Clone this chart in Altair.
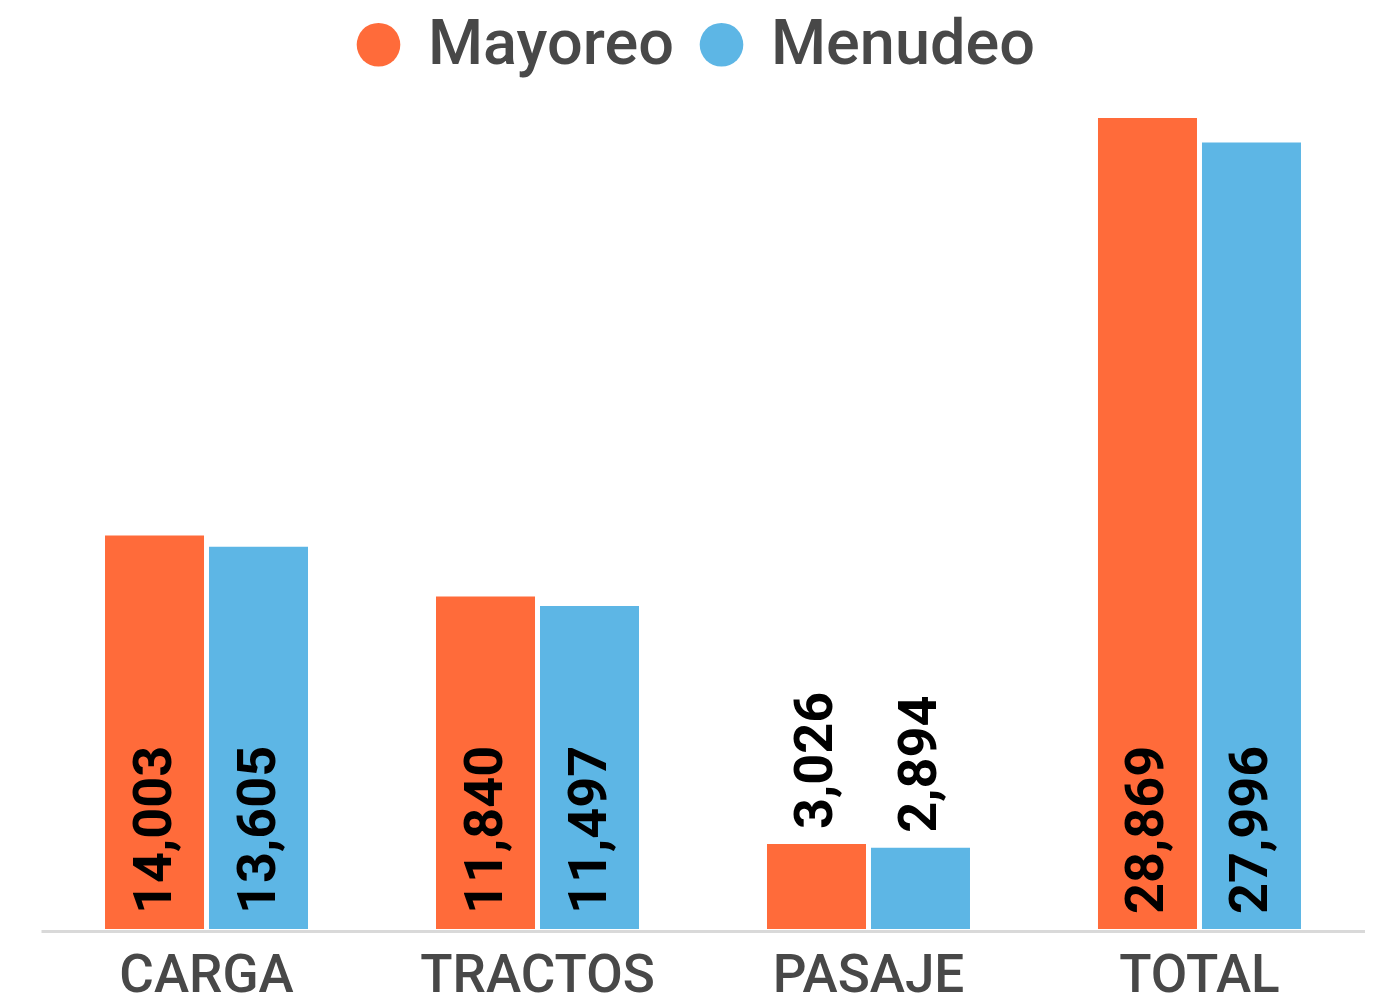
import altair as alt
import pandas as pd

categories = ["CARGA", "TRACTOS", "PASAJE", "TOTAL"]
series = ["Mayoreo", "Menudeo"]
mayoreo = [14003, 11840, 3026, 28869]
menudeo = [13605, 11497, 2894, 27996]
colors = ["#FF6B3A", "#5DB6E5"]

rows = []
for c, a, b in zip(categories, mayoreo, menudeo):
    rows.append({"cat": c, "serie": "Mayoreo", "val": a})
    rows.append({"cat": c, "serie": "Menudeo", "val": b})
df = pd.DataFrame(rows)
df["lbl"] = df["val"].map(lambda v: f"{v:,}")

FONT = "Roboto"

x = alt.X("cat:N", sort=categories,
          scale=alt.Scale(paddingInner=0.3867, paddingOuter=0.1934),
          axis=alt.Axis(title=None, labelAngle=0, labelFont=FONT, labelFontSize=53,
                        labelFontWeight=500, labelLimit=500,
                        labelColor="#484848", labelPadding=18, ticks=False,
                        domainColor="#d9d9d9", domainWidth=3, offset=2,
                        grid=False))
xo = alt.XOffset("serie:N", sort=series, scale=alt.Scale(paddingInner=0.048))
y = alt.Y("val:Q", scale=alt.Scale(domain=[0, 28869], nice=False), axis=None)

bars = alt.Chart(df).mark_bar().encode(
    x=x, xOffset=xo, y=y,
    color=alt.Color("serie:N", sort=series,
                    scale=alt.Scale(domain=series, range=colors),
                    legend=alt.Legend(title=None, orient="none", direction="horizontal",
                                      legendX=306, legendY=-105, padding=0,
                                      symbolType="circle", symbolSize=1900,
                                      symbolStrokeWidth=0, symbolOpacity=1,
                                      labelFont=FONT, labelFontSize=63,
                                      labelFontWeight=500,
                                      labelColor="#484848", labelOffset=18,
                                      columnPadding=16, labelLimit=400)),
)

inside = alt.Chart(df).transform_filter("datum.val > 6000").transform_calculate(zero="0").mark_text(
    angle=270, align="left", baseline="middle", dx=15,
    font=FONT, fontSize=54, fontWeight="bold", color="black"
).encode(x=x, xOffset=xo, y=alt.Y("zero:Q", scale=alt.Scale(domain=[0, 28869], nice=False), axis=None),
         text="lbl:N")

outside = alt.Chart(df).transform_filter("datum.val <= 6000").mark_text(
    angle=270, align="left", baseline="middle", dx=15,
    font=FONT, fontSize=54, fontWeight="bold", color="black"
).encode(x=x, xOffset=xo, y=y, text="lbl:N")

chart = alt.layer(bars, inside, outside).properties(
    width=1324, height=811,
    autosize=alt.AutoSizeParams(type="none"),
    padding={"left": 33, "top": 110, "right": 0, "bottom": 69},
).configure_view(stroke=None)

chart.save("out.html", embed_options={"renderer": "svg", "actions": False})
